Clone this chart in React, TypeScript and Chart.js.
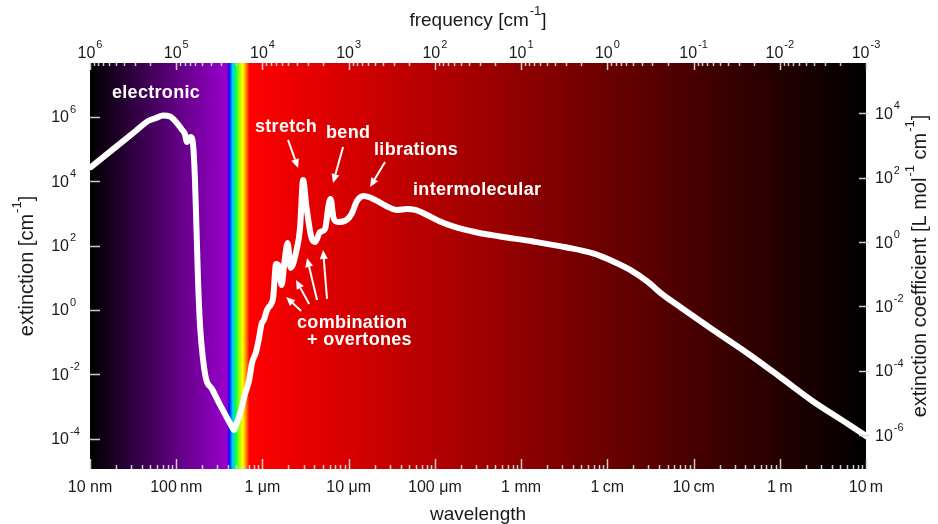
import React, { useEffect, useRef } from "react";
import { Chart, registerables } from "chart.js";

Chart.register(...registerables);

// ---------- data (wavelength in metres, extinction in cm^-1) ----------
const wavelengthM = [
  1.03e-8, 2.23e-8, 3.33e-8, 4.71e-8, 5.83e-8, 7.03e-8, 8.48e-8, 9.95e-8, 1.15e-7, 1.26e-7, 1.33e-7, 1.47e-7,
  1.57e-7, 1.65e-7, 1.72e-7, 1.79e-7, 1.89e-7, 2.05e-7, 2.22e-7, 2.6e-7, 3.22e-7, 3.78e-7,
  4.32e-7, 4.68e-7, 5.07e-7, 5.65e-7, 6.28e-7, 6.99e-7, 7.57e-7, 8.43e-7, 9.13e-7, 9.76e-7,
  1.04e-6, 1.13e-6, 1.26e-6, 1.33e-6, 1.44e-6, 1.54e-6, 1.67e-6, 1.8e-6, 1.96e-6, 2.12e-6,
  2.49e-6, 2.73e-6, 2.96e-6, 3.25e-6, 3.71e-6, 4.08e-6, 4.66e-6, 5.32e-6, 5.85e-6, 6.17e-6,
  6.68e-6, 7.53e-6, 9.45e-6, 1.08e-5, 1.25e-5, 1.49e-5, 1.77e-5, 2.14e-5, 2.79e-5, 3.64e-5,
  4.76e-5, 5.89e-5, 8.12e-5, 1.15e-4, 1.63e-4, 3.09e-4, 5.71e-4, 1.38e-3, 3.42e-3, 6.84e-3,
  1.17e-2, 1.84e-2, 2.9e-2, 4.44e-2, 6.99e-2, 0.169, 0.418, 1.01, 2.44, 6.05, 10.0,
];
const extinctionPerCm = [
  2.76e4, 1.47e5, 3.49e5, 7.41e5, 9.18e5, 1.1e6, 1.02e6, 6.9e5, 4.18e5, 2.92e5, 1.65e5, 2.36e5,
  1.33e5, 1.09e4, 305, 8.55, 0.318, 0.028, 7.2e-3, 3.52e-3, 1.12e-3, 5.11e-4,
  2.68e-4, 1.88e-4, 3.33e-4, 7.84e-4, 2.46e-3, 6.24e-3, 0.0226, 0.0496, 0.135, 0.367,
  0.489, 1.0, 1.54, 2.36, 26.8, 23.3, 5.97, 31.0, 120, 20.2,
  73.0, 352, 1.09e4, 1470, 172, 129, 264, 328, 1820, 2800,
  720, 541, 624, 958, 2430, 3470, 3120, 2430, 1640, 1280,
  1370, 1280, 892, 560, 392, 255, 192, 134, 87.3, 56.9,
  32.1, 17.5, 7.67, 2.92, 1.24, 0.239, 0.0462, 0.0083, 1.44e-3, 2.99e-4, 1.22e-4,
];

// ---------- axes ----------
const wavelengthRange = [1e-8, 10];
const wavelengthTicks = [1e-8, 1e-7, 1e-6, 1e-5, 1e-4, 1e-3, 1e-2, 1e-1, 1, 10];
const wavelengthTickLabels = ["10 nm", "100\u2009nm", "1 \u03bcm", "10 \u03bcm", "100 \u03bcm", "1 mm", "1\u2009cm", "10\u2009cm", "1\u2009m", "10\u2009m"];
const frequencyRange = [1e-3, 1e6];
const frequencyTickExps = [6, 5, 4, 3, 2, 1, 0, -1, -2, -3];
const extinctionRange = [1.15e-5, 4.68e7];
const extinctionTickExps = [6, 4, 2, 0, -2, -4];
const coefficientRange = [8.9e-8, 3.63e5];
const coefficientTickExps = [4, 2, 0, -2, -4, -6];

// ---------- background spectrum ----------
const spectrumWavelength = [1e-8, 3.9e-7, 4.12e-7, 4.5e-7, 4.9e-7, 5.4e-7, 5.9e-7, 6.4e-7, 7.05e-7, 10];
const spectrumColors = ["#000000", "#9800cc", "#0010ff", "#00c8ff", "#00ff50", "#a0ff00", "#ffff00", "#ff9600", "#ff0000", "#000000"];

// ---------- annotations ----------
const annotationLabels = ["electronic", "stretch", "bend", "librations", "intermolecular", "combination", "+ overtones"];
const annotationWavelength = [1.8e-8, 8.2e-7, 5.47e-6, 1.97e-5, 5.58e-5, 2.52e-6, 3.29e-6];
const annotationExtinction = [5.48e6, 4.82e5, 3.14e5, 9.31e4, 5.33e3, 0.394, 0.117];
const arrowFromWavelength = [1.98e-6, 8.61e-6, 2.64e-5, 2.81e-6, 3.48e-6, 4.3e-6, 5.61e-6];
const arrowFromExtinction = [1.91e5, 1.15e5, 3.94e4, 0.931, 1.53, 2.05, 2.2];
const arrowToWavelength = [2.59e-6, 6.59e-6, 1.77e-5, 1.88e-6, 2.45e-6, 3.29e-6, 5.05e-6];
const arrowToExtinction = [2.57e4, 8.79e3, 6.61e3, 2.54, 8.55, 41.2, 72.9];

const FONT = '"Liberation Sans", Arial, Helvetica, sans-serif';
const TEXT = "#1a1a1a";
const TICK = "rgba(215,215,215,0.95)";

type Part = { t: string; sup?: boolean };

function richWidth(ctx: CanvasRenderingContext2D, parts: Part[], size: number) {
  let w = 0;
  for (const p of parts) {
    ctx.font = `${p.sup ? Math.round(size * 0.66) : size}px ${FONT}`;
    w += ctx.measureText(p.t).width + (p.sup ? 1 : 0);
  }
  return w;
}

function drawRich(ctx: CanvasRenderingContext2D, parts: Part[], x: number, y: number, size: number, align: "left" | "center") {
  const w = richWidth(ctx, parts, size);
  let cx = align === "center" ? x - w / 2 : x;
  ctx.textAlign = "left";
  ctx.textBaseline = "alphabetic";
  for (const p of parts) {
    const s = p.sup ? Math.round(size * 0.66) : size;
    ctx.font = `${s}px ${FONT}`;
    if (p.sup) cx += 1;
    ctx.fillText(p.t, cx, p.sup ? y - size * 0.6 : y);
    cx += ctx.measureText(p.t).width;
  }
}

function drawPow(ctx: CanvasRenderingContext2D, exp: number, x: number, y: number, size: number, align: "center" | "right" | "left") {
  ctx.font = `${size}px ${FONT}`;
  const wb = ctx.measureText("10").width;
  const parts: Part[] = [{ t: "10" }, { t: String(exp), sup: true }];
  let start = x;
  if (align === "center") start = x - richWidth(ctx, parts, size) / 2;
  if (align === "right") start = x - wb;
  drawRich(ctx, parts, start, y, size, "left");
}

const backgroundPlugin = {
  id: "spectrumBackground",
  beforeDatasetsDraw(chart: any) {
    const { ctx, chartArea } = chart;
    const xs = chart.scales.x;
    const g = ctx.createLinearGradient(chartArea.left, 0, chartArea.right, 0);
    const w = chartArea.right - chartArea.left;
    spectrumWavelength.forEach((lam, i) => {
      const p = (xs.getPixelForValue(lam) - chartArea.left) / w;
      g.addColorStop(Math.min(1, Math.max(0, p)), spectrumColors[i]);
    });
    ctx.save();
    ctx.fillStyle = g;
    ctx.fillRect(chartArea.left, chartArea.top, w, chartArea.bottom - chartArea.top);
    ctx.restore();
  },
};

function arrow(ctx: CanvasRenderingContext2D, x1: number, y1: number, x2: number, y2: number) {
  const a = Math.atan2(y2 - y1, x2 - x1);
  const hl = 9, hw = 4;
  const bx = x2 - hl * Math.cos(a), by = y2 - hl * Math.sin(a);
  ctx.beginPath();
  ctx.moveTo(x1, y1);
  ctx.lineTo(bx, by);
  ctx.stroke();
  ctx.beginPath();
  ctx.moveTo(x2, y2);
  ctx.lineTo(bx + hw * Math.sin(a), by - hw * Math.cos(a));
  ctx.lineTo(bx - hw * Math.sin(a), by + hw * Math.cos(a));
  ctx.closePath();
  ctx.fill();
}

const decorPlugin = {
  id: "decor",
  afterDraw(chart: any) {
    const { ctx, chartArea: ca } = chart;
    const xs = chart.scales.x, xt = chart.scales.xTop, ys = chart.scales.y, y2 = chart.scales.y2;
    ctx.save();
    // tick marks
    ctx.strokeStyle = TICK;
    ctx.lineWidth = 1.5;
    ctx.beginPath();
    for (let e = -8; e <= 1; e++) {
      for (let k = 1; k <= 9; k++) {
        const v = k * Math.pow(10, e);
        if (v > 10.0001) continue;
        const px = Math.round(xs.getPixelForValue(v)) + 0.5;
        const len = k === 1 ? 10 : 4;
        ctx.moveTo(px, ca.bottom);
        ctx.lineTo(px, ca.bottom - len);
      }
    }
    for (let e = -3; e <= 6; e++) {
      for (let k = 1; k <= 9; k++) {
        const v = k * Math.pow(10, e);
        if (v > 1e6 * 1.0001) continue;
        const px = Math.round(xt.getPixelForValue(v)) + 0.5;
        const len = k === 1 ? 7 : 3;
        ctx.moveTo(px, ca.top);
        ctx.lineTo(px, ca.top + len);
      }
    }
    extinctionTickExps.forEach((e) => {
      const py = Math.round(ys.getPixelForValue(Math.pow(10, e))) + 0.5;
      ctx.moveTo(ca.left, py);
      ctx.lineTo(ca.left + 10, py);
    });
    coefficientTickExps.forEach((e) => {
      const py = Math.round(y2.getPixelForValue(Math.pow(10, e))) + 0.5;
      ctx.moveTo(ca.right + 3, py);
      ctx.lineTo(ca.right - 7, py);
    });
    ctx.stroke();

    // tick labels
    ctx.fillStyle = TEXT;
    wavelengthTicks.forEach((v, i) => {
      ctx.font = `16px ${FONT}`;
      ctx.textAlign = "center";
      ctx.textBaseline = "alphabetic";
      ctx.fillText(wavelengthTickLabels[i], xs.getPixelForValue(v), ca.bottom + 23);
    });
    frequencyTickExps.forEach((e) => {
      drawPow(ctx, e, xt.getPixelForValue(Math.pow(10, e)), ca.top - 5, 16, "center");
    });
    extinctionTickExps.forEach((e) => {
      drawPow(ctx, e, ca.left - 21, ys.getPixelForValue(Math.pow(10, e)) + 5.5, 16, "right");
    });
    coefficientTickExps.forEach((e) => {
      drawPow(ctx, e, ca.right + 9, y2.getPixelForValue(Math.pow(10, e)) + 5.5, 16, "left");
    });

    // axis titles
    const midX = (ca.left + ca.right) / 2;
    const midY = (ca.top + ca.bottom) / 2;
    drawRich(ctx, [{ t: "frequency [cm" }, { t: "-1", sup: true }, { t: "]" }], midX, 26, 19, "center");
    drawRich(ctx, [{ t: "wavelength" }], midX, 520, 19, "center");
    ctx.save();
    ctx.translate(33, midY);
    ctx.rotate(-Math.PI / 2);
    drawRich(ctx, [{ t: "extinction [cm" }, { t: "-1", sup: true }, { t: "]" }], 0, 0, 20, "center");
    ctx.restore();
    ctx.save();
    ctx.translate(926, midY);
    ctx.rotate(-Math.PI / 2);
    drawRich(ctx, [{ t: "extinction coefficient [L mol" }, { t: "-1", sup: true }, { t: " cm" }, { t: "-1", sup: true }, { t: "]" }], 0, 0, 20, "center");
    ctx.restore();

    // annotations
    ctx.save();
    ctx.beginPath();
    ctx.rect(ca.left, ca.top, ca.right - ca.left, ca.bottom - ca.top);
    ctx.clip();
    ctx.fillStyle = "#ffffff";
    ctx.strokeStyle = "#ffffff";
    ctx.font = `bold 18px ${FONT}`;
    try { (ctx as any).letterSpacing = "0.3px"; } catch (e) {}
    ctx.textAlign = "left";
    ctx.textBaseline = "middle";
    annotationLabels.forEach((t, i) => {
      ctx.fillText(t, xs.getPixelForValue(annotationWavelength[i]), ys.getPixelForValue(annotationExtinction[i]));
    });
    try { (ctx as any).letterSpacing = "0px"; } catch (e) {}
    ctx.lineWidth = 2;
    arrowFromWavelength.forEach((_, i) => {
      arrow(
        ctx,
        xs.getPixelForValue(arrowFromWavelength[i]),
        ys.getPixelForValue(arrowFromExtinction[i]),
        xs.getPixelForValue(arrowToWavelength[i]),
        ys.getPixelForValue(arrowToExtinction[i])
      );
    });
    ctx.restore();
    ctx.restore();
  },
};

export default function App() {
  const ref = useRef<HTMLCanvasElement>(null);
  useEffect(() => {
    const canvas = ref.current;
    if (!canvas) return;
    const hidden = { display: false };
    const chart = new Chart(canvas, {
      type: "line",
      data: {
        datasets: [
          {
            data: wavelengthM.map((w, i) => ({ x: w, y: extinctionPerCm[i] })),
            borderColor: "#ffffff",
            borderWidth: 6,
            pointRadius: 0,
            cubicInterpolationMode: "monotone",
            borderCapStyle: "round",
            borderJoinStyle: "round",
            xAxisID: "x",
            yAxisID: "y",
          } as any,
        ],
      },
      options: {
        responsive: false,
        animation: false,
        devicePixelRatio: 1,
        layout: { padding: 0 },
        plugins: { legend: { display: false }, tooltip: { enabled: false } },
        scales: {
          x: {
            type: "logarithmic",
            position: "bottom",
            min: wavelengthRange[0],
            max: wavelengthRange[1],
            ticks: hidden,
            grid: hidden,
            border: hidden,
            afterFit: (s: any) => { s.height = 55; },
          },
          xTop: {
            type: "logarithmic",
            position: "top",
            reverse: true,
            min: frequencyRange[0],
            max: frequencyRange[1],
            ticks: hidden,
            grid: hidden,
            border: hidden,
            afterFit: (s: any) => { s.height = 63; },
          },
          y: {
            type: "logarithmic",
            position: "left",
            min: extinctionRange[0],
            max: extinctionRange[1],
            ticks: hidden,
            grid: hidden,
            border: hidden,
            afterFit: (s: any) => { s.width = 90; },
          },
          y2: {
            type: "logarithmic",
            position: "right",
            min: coefficientRange[0],
            max: coefficientRange[1],
            ticks: hidden,
            grid: hidden,
            border: hidden,
            afterFit: (s: any) => { s.width = 72; },
          },
        } as any,
      },
      plugins: [backgroundPlugin, decorPlugin],
    });
    return () => chart.destroy();
  }, []);
  return (
    <div style={{ position: "absolute", left: 0, top: 0, width: 938, height: 524, background: "#ffffff" }}>
      <canvas ref={ref} width={938} height={524} style={{ display: "block" }} />
    </div>
  );
}
